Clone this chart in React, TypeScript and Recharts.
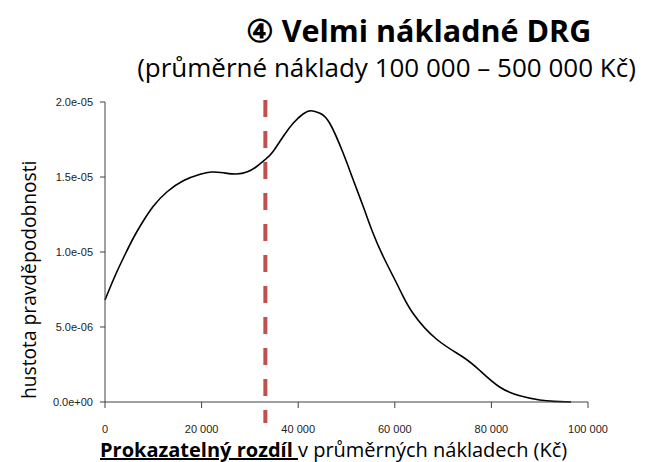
import React from 'react';
import { LineChart, Line, XAxis, YAxis, ReferenceLine } from 'recharts';

const xValues = [0, 2000, 4100, 5900, 7600, 10000, 12800, 16200, 19700, 22000, 24500, 27200, 29500, 31400, 33300, 34800, 37000, 39000, 41000, 42700, 44500, 46500, 49300, 51400, 53500, 55500, 57600, 59700, 61400, 63800, 68600, 74100, 77600, 81700, 85900, 90000, 93000, 96500];
const densityValues = [6.8e-6, 8.35e-6, 9.8e-6, 10.95e-6, 11.9e-6, 13.05e-6, 14.0e-6, 14.75e-6, 15.18e-6, 15.33e-6, 15.28e-6, 15.2e-6, 15.35e-6, 15.7e-6, 16.2e-6, 16.7e-6, 17.75e-6, 18.6e-6, 19.2e-6, 19.42e-6, 19.25e-6, 18.6e-6, 16.6e-6, 14.8e-6, 13.0e-6, 11.25e-6, 9.7e-6, 8.35e-6, 7.25e-6, 5.9e-6, 4.2e-6, 3.0e-6, 2.1e-6, 1.0e-6, 0.42e-6, 0.13e-6, 0.04e-6, 0];
const xTicks = [0, 20000, 40000, 60000, 80000, 100000];
const yTicks = [0, 5e-6, 1e-5, 1.5e-5, 2e-5];
const thresholdValue = 33200;
const title = '④ Velmi nákladné DRG';
const subtitle = '(průměrné náklady 100 000 – 500 000 Kč)';
const yLabel = 'hustota pravděpodobnosti';
const xLabelBold = 'Prokazatelný rozdíl ';
const xLabelRest = 'v průměrných nákladech (Kč)';

const data = xValues.map((x, i) => ({ x, d: densityValues[i] }));

const fmtX = (v: number) => (v === 0 ? '0' : String(v).replace(/\B(?=(\d{3})+(?!\d))/g, ' '));
const fmtY = (v: number) => {
  const s = v.toExponential(1);
  const [m, e] = s.split('e');
  const sign = e[0] === '-' ? '-' : '+';
  const digits = e.replace(/[+-]/, '').padStart(2, '0');
  return `${m}e${sign}${digits}`;
};

const textFont = '"Open Sans", "Noto Sans", sans-serif';
const tickFont = '"Liberation Sans", Arial, sans-serif';

export default function App() {
  return (
    <div style={{ position: 'fixed', left: 0, top: 0, width: 645, height: 462, background: '#fff', overflow: 'hidden' }}>
      <div style={{ position: 'absolute', left: 0, width: 837, top: 13, textAlign: 'center', fontFamily: textFont, fontWeight: 700, fontSize: 30.5, lineHeight: '34px', color: '#000', whiteSpace: 'nowrap' }}>
        {title}
      </div>
      <div style={{ position: 'absolute', left: 0, width: 773, top: 53, textAlign: 'center', fontFamily: textFont, fontSize: 26, lineHeight: '28px', color: '#000', whiteSpace: 'nowrap' }}>
        {subtitle}
      </div>
      <LineChart width={645} height={462} data={data} margin={{ top: 102, right: 57, bottom: 30, left: 45 }}>
        <XAxis
          dataKey="x"
          type="number"
          domain={[0, 100000]}
          ticks={xTicks}
          tickFormatter={fmtX}
          stroke="#404040"
          tickSize={6}
          tickMargin={17}
          height={30}
          tick={{ fill: '#222', fontSize: 11, fontFamily: tickFont }}
        />
        <YAxis
          type="number"
          domain={[0, 2e-5]}
          ticks={yTicks}
          tickFormatter={fmtY}
          stroke="#404040"
          tickSize={5}
          tickMargin={7}
          width={60}
          tick={{ fill: '#222', fontSize: 11, fontFamily: tickFont }}
          label={{ value: yLabel, angle: -90, position: 'insideLeft', dx: -21, dy: 147, style: { fontFamily: textFont, fontSize: 19.2, fill: '#000' } }}
        />
        <ReferenceLine
          segment={[{ x: thresholdValue, y: 2.013e-5 }, { x: thresholdValue, y: -1.4e-6 }]}
          stroke="#C0504D"
          strokeWidth={4}
          strokeDasharray="17 14"
          ifOverflow="visible"
        />
        <Line type="natural" dataKey="d" stroke="#000" strokeWidth={1.6} dot={false} isAnimationActive={false} />
      </LineChart>
      <div style={{ position: 'absolute', left: 100, top: 439, fontFamily: textFont, fontSize: 20, lineHeight: '22px', color: '#000', whiteSpace: 'nowrap' }}>
        <span style={{ fontWeight: 700, textDecoration: 'underline' }}>{xLabelBold}</span>
        {xLabelRest}
      </div>
    </div>
  );
}
